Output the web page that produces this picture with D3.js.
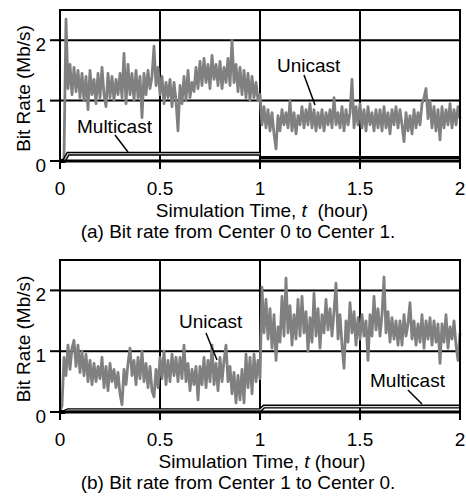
<!DOCTYPE html>
<html lang="en">
<head>
    <meta charset="UTF-8">
    <title>Bit rate</title>
    <script src="https://cdn.jsdelivr.net/npm/d3@7/dist/d3.min.js"></script>
    <style>
        body { margin: 0; background: #fff; }
        text { font-family: "Liberation Sans", Arial, sans-serif; fill: #000; }
    </style>
</head>
<body>
    <script>
        //time step of the unicast samples (hour)
        var tStep = 0.01;

        //unicast bit rate, Center 0 -> Center 1 (Mb/s)
        var unicastA = [
            0, 0, 0.05, 2.35, 1.2, 1.6, 1.1, 1.55, 1.15, 1.5,
            1.05, 1.45, 1.0, 1.4, 0.85, 1.5, 1.1, 1.35, 0.95, 1.45,
            1.05, 1.55, 1.1, 0.9, 1.45, 1.05, 1.4, 1.0, 1.35, 1.1,
            1.45, 1.05, 1.78, 0.95, 1.6, 1.1, 1.45, 1.0, 1.5, 1.05,
            1.4, 0.72, 1.45, 1.1, 1.5, 1.2, 1.4, 1.9, 1.25, 1.55,
            1.1, 1.4, 0.95, 1.3, 1.05, 1.35, 0.9, 1.3, 1.0, 0.5,
            1.25, 0.95, 1.4, 1.0, 1.5, 1.05, 1.3, 1.15, 1.55, 1.2,
            1.65, 1.25, 1.7, 1.3, 1.6, 1.2, 1.75, 1.35, 1.6, 1.25,
            1.65, 1.2, 1.55, 1.3, 1.7, 1.25, 2.0, 1.3, 1.6, 1.15,
            1.55, 1.1, 1.5, 1.05, 1.45, 1.0, 1.4, 1.05, 1.3, 1.0,
            1.1, 0.6, 0.9, 0.55, 0.85, 0.5, 0.8, 0.45, 0.2, 0.75,
            0.5, 0.85, 0.6, 0.8, 0.55, 1.0, 0.5, 0.8, 0.45, 0.75,
            0.6, 0.9, 0.55, 0.85, 0.6, 0.95, 0.55, 0.85, 0.5, 0.8,
            0.55, 0.85, 0.5, 0.8, 0.6, 0.85, 0.55, 1.05, 0.6, 0.8,
            0.55, 0.9, 0.5, 0.85, 0.6, 0.8, 1.35, 0.55, 0.9, 0.6,
            0.95, 0.55, 0.85, 0.5, 0.9, 0.6, 0.8, 0.5, 0.85, 0.55,
            0.85, 0.5, 0.9, 0.55, 0.8, 0.45, 0.85, 0.6, 0.9, 0.55,
            0.85, 0.6, 0.32, 0.8, 0.5, 0.75, 0.45, 0.85, 0.55, 0.8,
            0.6, 0.95, 1.05, 1.2, 0.7, 1.0, 0.55, 0.9, 0.5, 0.85,
            0.35, 0.9, 0.55, 0.85, 0.6, 0.95, 0.55, 0.85, 0.6, 0.9,
            0.7
        ];

        //unicast bit rate, Center 1 -> Center 0 (Mb/s)
        var unicastB = [
            0, 0.1, 0.9, 0.6, 1.1, 0.7, 1.05, 1.18, 0.75, 1.1,
            0.65, 1.0, 0.6, 0.95, 0.5, 0.85, 0.45, 0.8, 0.5, 0.75,
            0.55, 0.9, 0.4, 0.75, 0.35, 0.8, 0.5, 0.7, 0.4, 0.65,
            0.3, 0.12, 0.7, 0.45, 0.8, 1.05, 0.6, 0.85, 0.45, 0.9,
            0.55, 1.0, 0.5, 0.8, 0.4, 0.75, 0.35, 0.25, 0.7, 0.4,
            0.9, 0.55, 1.0, 0.45, 0.85, 0.5, 0.95, 0.6, 0.9, 0.5,
            0.9, 0.55, 1.1, 0.5, 0.8, 0.35, 0.7, 0.45, 0.75, 0.2,
            0.75, 0.45, 0.9, 0.4, 0.85, 0.5, 1.1, 0.45, 0.8, 0.35,
            0.9, 0.5, 0.85, 1.1, 0.5, 0.75, 0.3, 0.65, 0.15, 0.6,
            0.2, 0.7, 0.15, 0.95, 0.4, 0.9, 0.3, 0.95, 0.5, 0.85,
            0.55, 2.05, 1.3, 1.85, 1.2, 1.7, 1.05, 1.6, 0.85, 1.4,
            1.15, 1.9, 1.25, 2.2, 1.3, 1.75, 1.1, 1.6, 1.2, 1.85,
            1.25, 1.9, 1.3, 1.65, 1.0, 1.55, 1.15, 1.95, 1.25, 1.7,
            1.05, 1.6, 1.3, 1.85, 1.35, 1.7, 1.25, 1.65, 2.12, 1.2,
            1.6, 1.1, 0.72, 1.5, 1.15, 1.8, 1.3, 1.65, 1.1, 1.55,
            1.2, 1.6, 1.25, 1.5, 0.85, 1.6, 1.25, 1.9, 1.35, 1.7,
            1.25, 1.6, 2.22, 1.3, 1.65, 1.15, 1.55, 1.2, 1.5, 1.1,
            1.5, 1.1, 1.6, 1.25, 1.45, 1.8, 1.2, 1.5, 1.1, 1.45,
            1.15, 1.6, 1.05, 1.5, 1.2, 1.55, 1.1, 1.5, 1.15, 1.45,
            0.8, 1.45, 1.15, 1.6, 1.05, 1.4, 1.2, 1.5, 1.1, 0.85,
            1.3
        ];

        //multicast bit rate (step lines)
        var mcastTopT = [0, 0.02, 0.04, 1.0];
        var mcastTopV = [0, 0, 0.12, 0.12];
        var mcastTop2T = [1.0, 2.0];
        var mcastTop2V = [0.06, 0.06];
        var mcastBotT = [0, 0.02, 0.04, 1.0, 1.02, 2.0];
        var mcastBotV = [0, 0, 0.03, 0.03, 0.09, 0.09];
        var baseT = [0, 2];
        var baseV = [0, 0];

        //ticks
        var xTicks = [0, 0.5, 1, 1.5, 2];
        var xTickLabels = ['0', '0.5', '1', '1.5', '2'];
        var yTicks = [0, 1, 2];

        //panel settings
        var panels = [
            {
                top: 10, bottom: 161, uni: unicastA, mT: mcastTopT, mV: mcastTopV,
                sT: mcastTop2T, sV: mcastTop2V,
                xTitle: 'Simulation Time, ', xTitle2: '  (hour)',
                caption: '(a) Bit rate from Center 0 to Center 1.',
                labels: [
                    {text: 'Multicast', x: 77, y: 133, x1: 115, y1: 135, x2: 128, y2: 152},
                    {text: 'Unicast', x: 277, y: 72, x1: 304, y1: 75, x2: 315, y2: 105}
                ]
            },
            {
                top: 260, bottom: 412, uni: unicastB, mT: mcastBotT, mV: mcastBotV,
                sT: null, sV: null,
                xTitle: 'Simulation Time, ', xTitle2: ' (hour)',
                caption: '(b) Bit rate from Center 1 to Center 0.',
                labels: [
                    {text: 'Unicast', x: 179, y: 328, x1: 206, y1: 333, x2: 217, y2: 360},
                    {text: 'Multicast', x: 370, y: 387, x1: 408, y1: 390, x2: 422, y2: 404}
                ]
            }
        ];

        var w = 466;
        var h = 504;
        var fs = 19;

        var svg = d3.select('body')
                    .append('svg')
                    .attr('width', w)
                    .attr('height', h);

        var xScale = d3.scaleLinear()
                        .domain([0, 2])
                        .range([60, 460]);

        panels.forEach(function(p) {
            var yScale = d3.scaleLinear()
                            .domain([0, 2.5])
                            .range([p.bottom, p.top]);

            var g = svg.append('g');

            //grid lines
            g.selectAll('.hgrid')
                .data([1, 2])
                .enter()
                .append('line')
                .attr('x1', 60).attr('x2', 460)
                .attr('y1', function(d) { return yScale(d); })
                .attr('y2', function(d) { return yScale(d); })
                .attr('stroke', '#000')
                .attr('stroke-width', 2);

            g.selectAll('.vgrid')
                .data([0.5, 1, 1.5])
                .enter()
                .append('line')
                .attr('x1', function(d) { return xScale(d); })
                .attr('x2', function(d) { return xScale(d); })
                .attr('y1', p.top).attr('y2', p.bottom + 8)
                .attr('stroke', '#000')
                .attr('stroke-width', 2);

            //unicast
            var uniLine = d3.line()
                            .x(function(d, i) { return xScale(i * tStep); })
                            .y(function(d) { return yScale(d); });

            g.append('path')
                .datum(p.uni)
                .attr('d', uniLine)
                .attr('fill', 'none')
                .attr('stroke', '#808080')
                .attr('stroke-width', 2.8)
                .attr('stroke-linejoin', 'round');

            //multicast: black outline with a light core
            var mLine = d3.line()
                            .x(function(d) { return xScale(p.mT[d]); })
                            .y(function(d) { return yScale(p.mV[d]); });
            var idx = d3.range(p.mT.length);

            g.append('path')
                .datum(idx)
                .attr('d', mLine)
                .attr('fill', 'none')
                .attr('stroke', '#000')
                .attr('stroke-width', 4);
            g.append('path')
                .datum(idx)
                .attr('d', mLine)
                .attr('fill', 'none')
                .attr('stroke', '#ddd')
                .attr('stroke-width', 1.2);

            //second multicast segment, solid
            if (p.sT) {
                g.append('path')
                    .datum(d3.range(p.sT.length))
                    .attr('d', d3.line()
                        .x(function(d) { return xScale(p.sT[d]); })
                        .y(function(d) { return yScale(p.sV[d]); }))
                    .attr('stroke', '#000')
                    .attr('stroke-width', 3);
            }

            //zero line
            g.append('path')
                .datum(d3.range(baseT.length))
                .attr('d', d3.line()
                    .x(function(d) { return xScale(baseT[d]); })
                    .y(function(d) { return yScale(baseV[d]); }))
                .attr('stroke', '#000')
                .attr('stroke-width', 3);

            //frame
            g.append('rect')
                .attr('x', 60).attr('y', p.top)
                .attr('width', 400).attr('height', p.bottom - p.top)
                .attr('fill', 'none')
                .attr('stroke', '#000')
                .attr('stroke-width', 2);

            //tick marks
            g.selectAll('.xt')
                .data([0, 2])
                .enter()
                .append('line')
                .attr('x1', function(d) { return xScale(d); })
                .attr('x2', function(d) { return xScale(d); })
                .attr('y1', p.bottom).attr('y2', p.bottom + 8)
                .attr('stroke', '#000')
                .attr('stroke-width', 2);

            g.selectAll('.yt')
                .data(yTicks)
                .enter()
                .append('line')
                .attr('x1', 50).attr('x2', 60)
                .attr('y1', function(d) { return yScale(d); })
                .attr('y2', function(d) { return yScale(d); })
                .attr('stroke', '#000')
                .attr('stroke-width', 2);

            //tick labels
            g.selectAll('.xl')
                .data(xTicks)
                .enter()
                .append('text')
                .attr('x', function(d) { return xScale(d); })
                .attr('y', p.bottom + 34)
                .attr('text-anchor', 'middle')
                .attr('font-size', fs)
                .text(function(d, i) { return xTickLabels[i]; });

            g.selectAll('.yl')
                .data(yTicks)
                .enter()
                .append('text')
                .attr('x', 46)
                .attr('y', function(d) { return yScale(d) + 11; })
                .attr('text-anchor', 'end')
                .attr('font-size', fs)
                .text(function(d) { return d; });

            //axis titles
            var xt = g.append('text')
                .attr('x', 262)
                .attr('y', p.bottom + 56)
                .attr('text-anchor', 'middle')
                .attr('font-size', fs);
            xt.append('tspan').text(p.xTitle);
            xt.append('tspan').attr('font-style', 'italic').text('t');
            xt.append('tspan').attr('xml:space', 'preserve').style('white-space', 'pre').text(p.xTitle2);

            g.append('text')
                .attr('transform', 'translate(30,' + ((p.top + p.bottom) / 2 + 3) + ') rotate(-90)')
                .attr('text-anchor', 'middle')
                .attr('font-size', fs)
                .text('Bit Rate (Mb/s)');

            //caption
            g.append('text')
                .attr('x', 238)
                .attr('y', p.bottom + 77)
                .attr('text-anchor', 'middle')
                .attr('font-size', fs)
                .text(p.caption);

            //series labels with pointers
            p.labels.forEach(function(l) {
                g.append('text')
                    .attr('x', l.x).attr('y', l.y)
                    .attr('font-size', fs)
                    .text(l.text);
                g.append('line')
                    .attr('x1', l.x1).attr('y1', l.y1)
                    .attr('x2', l.x2).attr('y2', l.y2)
                    .attr('stroke', '#000')
                    .attr('stroke-width', 1.5);
            });
        });
    </script>
</body>
</html>
